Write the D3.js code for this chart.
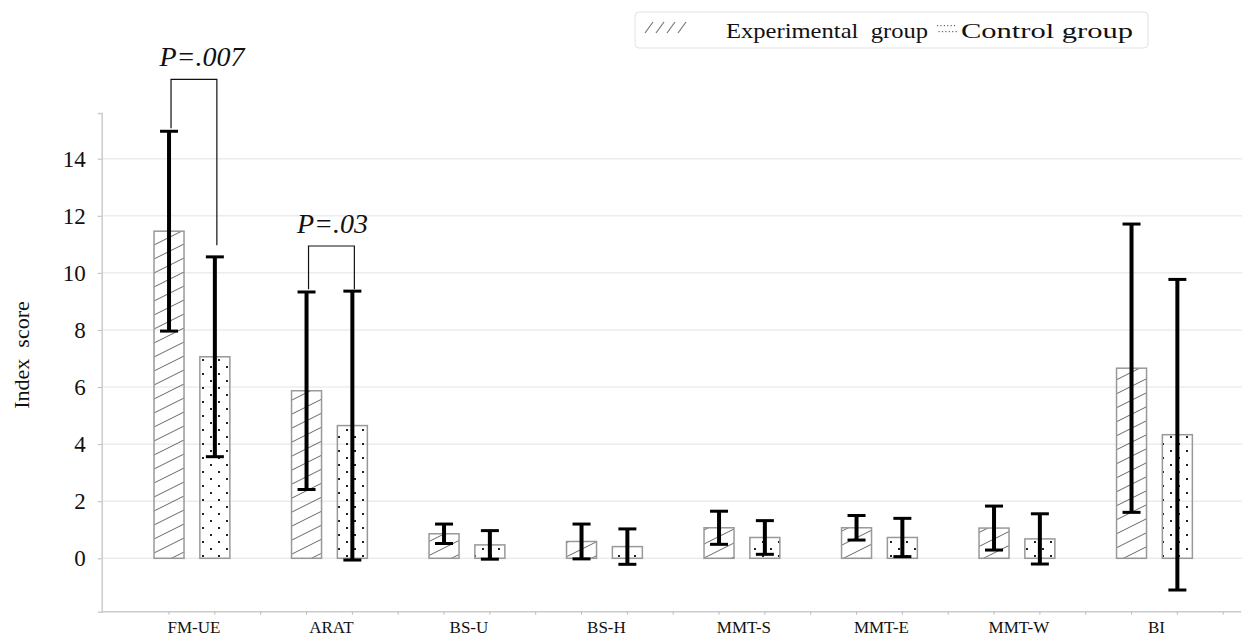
<!DOCTYPE html>
<html>
<head>
<meta charset="utf-8">
<script src="https://cdn.jsdelivr.net/npm/d3@7/dist/d3.min.js"></script>
<style>
  body { margin: 0; background: #fff; }
  svg, svg text { font-family: "Liberation Serif", "Times New Roman", Times, serif; }
  svg text { fill: #111; }
</style>
</head>
<body>
<div id="chart"></div>
<script>
// chart data
var categories = ['FM-UE', 'ARAT', 'BS-U', 'BS-H', 'MMT-S', 'MMT-E', 'MMT-W', 'BI'];
var expMean = [11.46, 5.87, 0.86, 0.59, 1.07, 1.07, 1.06, 6.66];
var expSd = [3.5, 3.46, 0.34, 0.61, 0.58, 0.43, 0.77, 5.05];
var ctrlMean = [7.06, 4.65, 0.47, 0.41, 0.73, 0.73, 0.68, 4.33];
var ctrlSd = [3.5, 4.71, 0.5, 0.62, 0.59, 0.67, 0.88, 5.44];
var yTicks = [0, 2, 4, 6, 8, 10, 12, 14];
var seriesNames = ['Experimental  group', 'Control group'];
// significance brackets: category, label, bracket top, left leg end, right leg end
var pCategory = ['FM-UE', 'ARAT'];
var pLabel = ['P=.007', 'P=.03'];
var pTop = [16.78, 10.94];
var pLegLeft = [15.07, 9.43];
var pLegRight = [10.97, 9.43];

var width = 1242;
var height = 637;

var svg = d3.select('#chart').append('svg')
  .attr('width', width)
  .attr('height', height)
  .attr('font-family', '"Liberation Serif", "Times New Roman", serif');

var defs = svg.append('defs');

// diagonal hatch for experimental group
var hatch = defs.append('pattern')
  .attr('id', 'hatch')
  .attr('patternUnits', 'userSpaceOnUse')
  .attr('width', 28)
  .attr('height', 14);
hatch.append('path')
  .attr('d', 'M-2,15 L30,-1')
  .attr('stroke', '#666')
  .attr('stroke-width', 1);
hatch.append('path')
  .attr('d', 'M-2,1 L2,-1 M26,15 L30,13')
  .attr('stroke', '#666')
  .attr('stroke-width', 1);

// dotted fill for control group
var dots = defs.append('pattern')
  .attr('id', 'dots')
  .attr('patternUnits', 'userSpaceOnUse')
  .attr('width', 16)
  .attr('height', 14);
dots.append('rect').attr('x', 2).attr('y', 2).attr('width', 2).attr('height', 2).attr('fill', '#222');
dots.append('rect').attr('x', 10).attr('y', 9).attr('width', 2).attr('height', 2).attr('fill', '#222');

var x = d3.scaleBand()
  .domain(categories)
  .range([123.2, 1223.2])
  .padding(0);

var y = d3.scaleLinear()
  .domain([-1.87, 15.6])
  .range([611.7, 113]);

var axisLeft = 101.7;
var bw = x.bandwidth();
var barWidth = 30;

function expX(c) { return x(c) + bw / 3; }
function ctrlX(c) { return x(c) + bw * 2 / 3; }

// gridlines
svg.append('g')
  .selectAll('line')
  .data(yTicks)
  .enter().append('line')
  .attr('x1', axisLeft)
  .attr('x2', width)
  .attr('y1', function (d) { return y(d); })
  .attr('y2', function (d) { return y(d); })
  .attr('stroke', '#ececec')
  .attr('stroke-width', 1.5);

// y axis
var yAxis = svg.append('g')
  .attr('transform', 'translate(' + axisLeft + ',0)')
  .call(d3.axisLeft(y).tickValues(yTicks).tickSize(4).tickPadding(12));
yAxis.attr('font-family', null);
yAxis.select('.domain').attr('stroke', '#ccc').attr('stroke-width', 1.5);
yAxis.selectAll('.tick line').attr('stroke', '#bbb');
yAxis.selectAll('.tick text')
  .attr('font-size', 23)
  .attr('fill', '#111');

// x axis line and ticks
var xTickPos = [];
categories.forEach(function (c) {
  xTickPos.push(expX(c), ctrlX(c), x(c) + bw);
});
var xAxisG = svg.append('g');
xAxisG.append('line')
  .attr('x1', axisLeft)
  .attr('x2', x.range()[1] + 18)
  .attr('y1', y.range()[0])
  .attr('y2', y.range()[0])
  .attr('stroke', '#ccc')
  .attr('stroke-width', 1.5);
xAxisG.selectAll('line.tk')
  .data(xTickPos)
  .enter().append('line')
  .attr('class', 'tk')
  .attr('x1', function (d) { return d; })
  .attr('x2', function (d) { return d; })
  .attr('y1', y.range()[0])
  .attr('y2', y.range()[0] + 3)
  .attr('stroke', '#bbb');
xAxisG.selectAll('text')
  .data(categories)
  .enter().append('text')
  .attr('x', function (d) { return x(d) + bw / 2 + 2; })
  .attr('y', 633)
  .attr('text-anchor', 'middle')
  .attr('font-size', 17)
  .text(function (d) { return d; });

// y axis title
svg.append('text')
  .attr('transform', 'translate(29,355) rotate(-90)')
  .attr('text-anchor', 'middle')
  .attr('font-size', 22)
  .attr('xml:space', 'preserve')
  .text('Index  score');

// bars
var groups = [
  { mean: expMean, sd: expSd, fill: 'url(#hatch)', pos: expX },
  { mean: ctrlMean, sd: ctrlSd, fill: 'url(#dots)', pos: ctrlX }
];

groups.forEach(function (g) {
  var rows = categories.map(function (c, i) {
    return { c: c, m: g.mean[i], s: g.sd[i] };
  });
  var bars = svg.append('g');
  bars.selectAll('rect')
    .data(rows)
    .enter().append('rect')
    .attr('x', function (d) { return g.pos(d.c) - barWidth / 2; })
    .attr('y', function (d) { return y(d.m); })
    .attr('width', barWidth)
    .attr('height', function (d) { return y(0) - y(d.m); })
    .attr('fill', g.fill)
    .attr('stroke', '#999')
    .attr('stroke-width', 1.5);
  g.rows = rows;
});

// error bars drawn on top
groups.forEach(function (g) {
  var eb = svg.append('g').attr('stroke', '#000');
  eb.selectAll('line.v')
    .data(g.rows)
    .enter().append('line')
    .attr('class', 'v')
    .attr('x1', function (d) { return g.pos(d.c); })
    .attr('x2', function (d) { return g.pos(d.c); })
    .attr('y1', function (d) { return y(d.m + d.s); })
    .attr('y2', function (d) { return y(d.m - d.s); })
    .attr('stroke-width', 4);
  [1, -1].forEach(function (sign) {
    eb.selectAll('line.cap' + (sign > 0 ? 'u' : 'd'))
      .data(g.rows)
      .enter().append('line')
      .attr('x1', function (d) { return g.pos(d.c) - 9; })
      .attr('x2', function (d) { return g.pos(d.c) + 9; })
      .attr('y1', function (d) { return y(d.m + sign * d.s); })
      .attr('y2', function (d) { return y(d.m + sign * d.s); })
      .attr('stroke-width', 3);
  });
});

// significance brackets
pCategory.forEach(function (c, i) {
  var x1 = expX(c) + 2;
  var x2 = ctrlX(c) + 2;
  svg.append('path')
    .attr('d', 'M' + x1 + ',' + y(pLegLeft[i]) + ' V' + y(pTop[i]) + ' H' + x2 + ' V' + y(pLegRight[i]))
    .attr('fill', 'none')
    .attr('stroke', '#111')
    .attr('stroke-width', 1.2);
  svg.append('text')
    .attr('x', (x1 + x2) / 2 + (i === 0 ? 8 : 1))
    .attr('y', y(pTop[i]) - 13)
    .attr('text-anchor', 'middle')
    .attr('font-size', 28)
    .attr('font-style', 'italic')
    .text(pLabel[i]);
});

// legend
var legend = svg.append('g');
legend.append('rect')
  .attr('x', 635)
  .attr('y', 12)
  .attr('width', 513)
  .attr('height', 36)
  .attr('rx', 4)
  .attr('fill', '#fff')
  .attr('stroke', '#e2e2e2');
// hatch swatch
[0, 1, 2, 3].forEach(function (k) {
  legend.append('line')
    .attr('x1', 645 + k * 11)
    .attr('y1', 33)
    .attr('x2', 653 + k * 11)
    .attr('y2', 22)
    .attr('stroke', '#777')
    .attr('stroke-width', 1.2);
});
// dot swatch
[25, 31].forEach(function (yy, r) {
  d3.range(6).forEach(function (k) {
    legend.append('rect')
      .attr('x', 937 + k * 3.4 + r * 1.5)
      .attr('y', yy)
      .attr('width', 1.2)
      .attr('height', 1.2)
      .attr('fill', '#666');
  });
});
legend.append('text')
  .attr('x', 726)
  .attr('y', 38)
  .attr('font-size', 22)
  .attr('textLength', 202)
  .attr('lengthAdjust', 'spacingAndGlyphs')
  .attr('xml:space', 'preserve')
  .text(seriesNames[0]);
legend.append('text')
  .attr('x', 961)
  .attr('y', 38)
  .attr('font-size', 22)
  .attr('textLength', 172)
  .attr('lengthAdjust', 'spacingAndGlyphs')
  .text(seriesNames[1]);
</script>
</body>
</html>
